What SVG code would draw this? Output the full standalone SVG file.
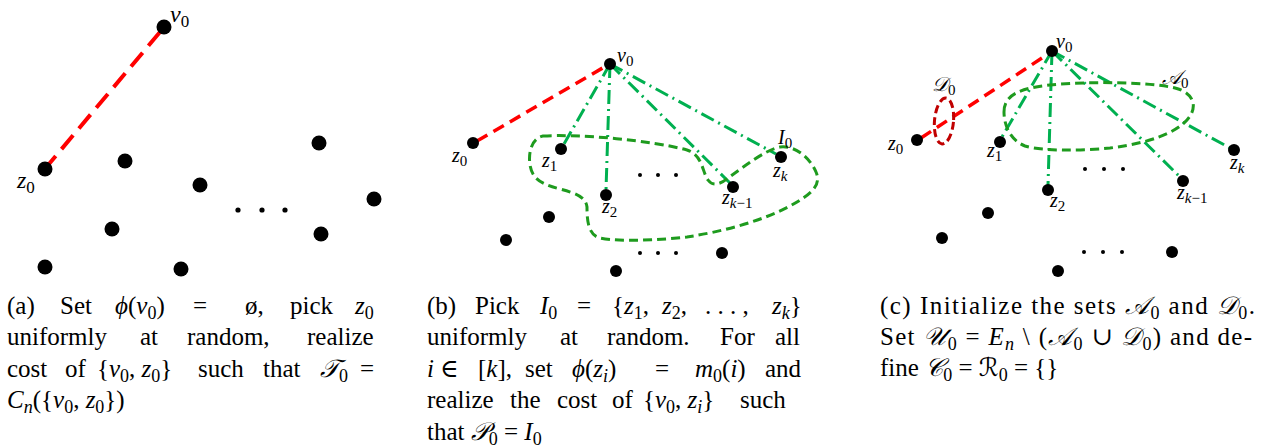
<svg xmlns="http://www.w3.org/2000/svg" width="1265" height="448" viewBox="0 0 1265 448">
<style>
text{font-family:"Liberation Serif","DejaVu Serif","DejaVu Sans",serif;fill:#000}
.cap{font-size:25px}
.it{font-style:italic}
.la{font-size:24px}
.lb{font-size:20px}
.dot{fill:#000}
.red{stroke:#ff0000;stroke-width:4;fill:none;stroke-dasharray:18 9}
.redb{stroke:#ff0000;stroke-width:3.5;fill:none;stroke-dasharray:12 7}
.gdd{stroke:#00b050;stroke-width:3;fill:none;stroke-dasharray:14 5 2 5}
.blob{stroke:#1e9b1e;stroke-width:3;fill:none;stroke-dasharray:9 5}
.dset{stroke:#c00000;stroke-width:3;fill:none;stroke-dasharray:8 4}
</style>
<g id="connectors">
<line class="red" x1="160" y1="32" x2="49" y2="164"/>
<line class="redb" x1="477" y1="141" x2="606" y2="66"/>
<line class="gdd" x1="610" y1="64" x2="564" y2="144"/>
<line class="gdd" x1="610" y1="64" x2="606" y2="190"/>
<line class="gdd" x1="610" y1="64" x2="731" y2="184"/>
<line class="gdd" x1="610" y1="64" x2="776" y2="154"/>
<line class="redb" x1="921" y1="138" x2="1048" y2="54"/>
<line class="gdd" x1="1052" y1="51" x2="1002" y2="137"/>
<line class="gdd" x1="1052" y1="51" x2="1048" y2="185"/>
<line class="gdd" x1="1052" y1="51" x2="1180" y2="177"/>
<line class="gdd" x1="1052" y1="51" x2="1230" y2="148"/>
</g>
<g id="sets">
<path id="I0-set" class="blob" d="M543,136 C580,134 650,140 687,150 C703,155 702,172 708,180 C712,186 720,185 728,178 C745,166 765,150 780,147 C795,145 810,158 816,172 C822,186 810,195 790,206 C760,222 720,232 687,237 C660,240 620,242 600,238 C588,235 587,220 587,207 C586,197 575,193 560,189 C540,184 532,178 530,165 C528,152 532,138 543,136 Z"/>
<path id="A0-set" class="blob" d="M1004,112 C1004,95 1020,88 1050,85 C1090,81 1150,82 1175,88 C1195,93 1198,108 1187,120 C1175,133 1150,143 1110,148 C1080,151 1040,151 1025,146 C1010,140 1004,125 1004,112 Z"/>
<ellipse id="D0-set" class="dset" cx="944" cy="121" rx="9.5" ry="23" transform="rotate(5 944 121)"/>
<text class="lb" x="778" y="144"><tspan class="it">I</tspan><tspan font-size="15" dy="4">0</tspan></text>
<text class="lb" x="1162" y="84"><tspan class="it">&#x1D49C;</tspan><tspan font-size="15" dy="4">0</tspan></text>
<text class="lb" x="932" y="91"><tspan class="it">&#x1D49F;</tspan><tspan font-size="15" dy="4">0</tspan></text>
</g>
<g id="panel-a">
<g id="a-v0"><circle class="dot" cx="164" cy="27" r="7.5"/><text class="la" x="170" y="22"><tspan class="it">v</tspan><tspan font-size="17" dy="5">0</tspan></text></g>
<g id="a-z0"><circle class="dot" cx="45" cy="169" r="7.5"/><text class="la" x="17" y="188"><tspan class="it">z</tspan><tspan font-size="17" dy="5">0</tspan></text></g>
<g id="a-others">
<circle class="dot" cx="125" cy="161" r="7.5"/><circle class="dot" cx="200" cy="185" r="7.5"/><circle class="dot" cx="319" cy="143" r="7.5"/><circle class="dot" cx="374" cy="199" r="7.5"/><circle class="dot" cx="321" cy="234" r="7.5"/><circle class="dot" cx="112" cy="229" r="7.5"/><circle class="dot" cx="45" cy="267" r="7.5"/><circle class="dot" cx="181" cy="269" r="7.5"/>
<circle class="dot" cx="238" cy="210" r="2.6"/><circle class="dot" cx="262" cy="210" r="2.6"/><circle class="dot" cx="285" cy="210" r="2.6"/>
</g>
</g>
<g id="panel-b">
<g id="b-v0"><circle class="dot" cx="610" cy="64" r="6"/><text class="lb" x="617" y="62"><tspan class="it">v</tspan><tspan font-size="15" dy="4">0</tspan></text></g>
<g id="b-z0"><circle class="dot" cx="473" cy="143" r="6"/><text class="lb" x="452" y="162"><tspan class="it">z</tspan><tspan font-size="15" dy="4">0</tspan></text></g>
<g id="b-z1"><circle class="dot" cx="561" cy="149" r="6"/><text class="lb" x="542" y="167"><tspan class="it">z</tspan><tspan font-size="15" dy="4">1</tspan></text></g>
<g id="b-z2"><circle class="dot" cx="606" cy="195" r="6"/><text class="lb" x="602" y="213"><tspan class="it">z</tspan><tspan font-size="15" dy="4">2</tspan></text></g>
<g id="b-zk1"><circle class="dot" cx="733" cy="187" r="6"/><text class="lb" x="722" y="204"><tspan class="it">z</tspan><tspan font-size="15" dy="4"><tspan class="it">k</tspan>&#x2212;1</tspan></text></g>
<g id="b-zk"><circle class="dot" cx="781" cy="157" r="6"/><text class="lb" x="773" y="177"><tspan class="it">z</tspan><tspan font-size="15" dy="4" class="it">k</tspan></text></g>
<g id="b-others">
<circle class="dot" cx="549" cy="217" r="6"/><circle class="dot" cx="506" cy="240" r="6"/><circle class="dot" cx="616" cy="271" r="6"/><circle class="dot" cx="722" cy="253" r="6"/>
<circle class="dot" cx="640" cy="175" r="2"/><circle class="dot" cx="658" cy="175" r="2"/><circle class="dot" cx="676" cy="175" r="2"/>
<circle class="dot" cx="640" cy="253" r="2"/><circle class="dot" cx="658" cy="253" r="2"/><circle class="dot" cx="676" cy="253" r="2"/>
</g>
</g>
<g id="panel-c">
<g id="c-v0"><circle class="dot" cx="1052" cy="51" r="6"/><text class="lb" x="1056" y="48"><tspan class="it">v</tspan><tspan font-size="15" dy="4">0</tspan></text></g>
<g id="c-z0"><circle class="dot" cx="917" cy="140" r="6"/><text class="lb" x="888" y="150"><tspan class="it">z</tspan><tspan font-size="15" dy="4">0</tspan></text></g>
<g id="c-z1"><circle class="dot" cx="1000" cy="142" r="6"/><text class="lb" x="987" y="157"><tspan class="it">z</tspan><tspan font-size="15" dy="4">1</tspan></text></g>
<g id="c-z2"><circle class="dot" cx="1048" cy="190" r="6"/><text class="lb" x="1050" y="207"><tspan class="it">z</tspan><tspan font-size="15" dy="4">2</tspan></text></g>
<g id="c-zk1"><circle class="dot" cx="1183" cy="181" r="6"/><text class="lb" x="1177" y="199"><tspan class="it">z</tspan><tspan font-size="15" dy="4"><tspan class="it">k</tspan>&#x2212;1</tspan></text></g>
<g id="c-zk"><circle class="dot" cx="1234" cy="150" r="6"/><text class="lb" x="1230" y="169"><tspan class="it">z</tspan><tspan font-size="15" dy="4" class="it">k</tspan></text></g>
<g id="c-others">
<circle class="dot" cx="988" cy="213" r="6"/><circle class="dot" cx="942" cy="238" r="6"/><circle class="dot" cx="1058" cy="271" r="6"/><circle class="dot" cx="1172" cy="252" r="6"/>
<circle class="dot" cx="1085" cy="169" r="2"/><circle class="dot" cx="1104" cy="169" r="2"/><circle class="dot" cx="1123" cy="169" r="2"/>
<circle class="dot" cx="1084" cy="252" r="2"/><circle class="dot" cx="1103" cy="252" r="2"/><circle class="dot" cx="1122" cy="252" r="2"/>
</g>
</g>
<g id="caption-a" class="cap">
<text x="7" y="314">(a)</text>
<text x="60" y="314">Set</text>
<text x="115" y="314"><tspan class="it">&#x3D5;</tspan>(<tspan class="it">v</tspan><tspan font-size="18" dy="5">0</tspan><tspan dy="-5">)</tspan></text>
<text x="193" y="314">=</text>
<text x="245" y="314">ø,</text>
<text x="290" y="314">pick</text>
<text x="355" y="314"><tspan class="it">z</tspan><tspan font-size="18" dy="5">0</tspan></text>
<text x="7" y="345">uniformly</text>
<text x="140" y="345">at</text>
<text x="187" y="345">random,</text>
<text x="307" y="345">realize</text>
<text x="7" y="377">cost</text>
<text x="65" y="377">of</text>
<text x="97" y="377">{<tspan class="it">v</tspan><tspan font-size="18" dy="5">0</tspan><tspan dy="-5">, </tspan><tspan class="it">z</tspan><tspan font-size="18" dy="5">0</tspan><tspan dy="-5">}</tspan></text>
<text x="198" y="377">such</text>
<text x="263" y="377">that</text>
<text x="320" y="377"><tspan class="it">&#x1D4AF;</tspan><tspan font-size="18" dy="5">0</tspan></text>
<text x="360" y="377">=</text>
<text x="7" y="408"><tspan class="it">C</tspan><tspan font-size="18" dy="5" class="it">n</tspan><tspan dy="-5">({</tspan><tspan class="it">v</tspan><tspan font-size="18" dy="5">0</tspan><tspan dy="-5">, </tspan><tspan class="it">z</tspan><tspan font-size="18" dy="5">0</tspan><tspan dy="-5">})</tspan></text>
</g>
<g id="caption-b" class="cap">
<text x="427" y="314">(b)</text>
<text x="475" y="314">Pick</text>
<text x="540" y="314"><tspan class="it">I</tspan><tspan font-size="18" dy="5">0</tspan></text>
<text x="577" y="314">=</text>
<text x="612" y="314">{<tspan class="it">z</tspan><tspan font-size="18" dy="5">1</tspan><tspan dy="-5">,</tspan></text>
<text x="662" y="314"><tspan class="it">z</tspan><tspan font-size="18" dy="5">2</tspan><tspan dy="-5">,</tspan></text>
<text x="705" y="314">. . . ,</text>
<text x="772" y="314"><tspan class="it">z</tspan><tspan font-size="18" dy="5" class="it">k</tspan><tspan dy="-5">}</tspan></text>
<text x="427" y="345">uniformly</text>
<text x="560" y="345">at</text>
<text x="607" y="345">random.</text>
<text x="720" y="345">For</text>
<text x="775" y="345">all</text>
<text x="427" y="377" class="it">i</text>
<text x="440" y="377">∈</text>
<text x="478" y="377">[<tspan class="it">k</tspan>],</text>
<text x="525" y="377">set</text>
<text x="572" y="377"><tspan class="it">&#x3D5;</tspan>(<tspan class="it">z</tspan><tspan font-size="18" dy="5" class="it">i</tspan><tspan dy="-5">)</tspan></text>
<text x="655" y="377">=</text>
<text x="695" y="377"><tspan class="it">m</tspan><tspan font-size="18" dy="5">0</tspan><tspan dy="-5">(</tspan><tspan class="it">i</tspan>)</text>
<text x="765" y="377">and</text>
<text x="427" y="408">realize</text>
<text x="510" y="408">the</text>
<text x="557" y="408">cost</text>
<text x="612" y="408">of</text>
<text x="643" y="408">{<tspan class="it">v</tspan><tspan font-size="18" dy="5">0</tspan><tspan dy="-5">, </tspan><tspan class="it">z</tspan><tspan font-size="18" dy="5" class="it">i</tspan><tspan dy="-5">}</tspan></text>
<text x="740" y="408">such</text>
<text x="427" y="440">that <tspan class="it">&#x1D4AB;</tspan><tspan font-size="18" dy="5">0</tspan><tspan dy="-5"> = </tspan><tspan class="it">I</tspan><tspan font-size="18" dy="5">0</tspan></text>
</g>
<g id="caption-c" class="cap">
<text x="880" y="314" textLength="375" lengthAdjust="spacing">(c) Initialize the sets <tspan class="it">&#x1D49C;</tspan><tspan font-size="18" dy="5">0</tspan><tspan dy="-5"> and </tspan><tspan class="it">&#x1D49F;</tspan><tspan font-size="18" dy="5">0</tspan><tspan dy="-5">.</tspan></text>
<text x="880" y="345" textLength="372" lengthAdjust="spacing">Set <tspan class="it">&#x1D4B0;</tspan><tspan font-size="18" dy="5">0</tspan><tspan dy="-5"> = </tspan><tspan class="it">E</tspan><tspan font-size="18" dy="5" class="it">n</tspan><tspan dy="-5"> \ (</tspan><tspan class="it">&#x1D49C;</tspan><tspan font-size="18" dy="5">0</tspan><tspan dy="-5"> ∪ </tspan><tspan class="it">&#x1D49F;</tspan><tspan font-size="18" dy="5">0</tspan><tspan dy="-5">) and de-</tspan></text>
<text x="880" y="376">fine <tspan class="it">&#x1D49E;</tspan><tspan font-size="18" dy="5">0</tspan><tspan dy="-5"> = </tspan><tspan class="it">&#x211B;</tspan><tspan font-size="18" dy="5">0</tspan><tspan dy="-5"> = {}</tspan></text>
</g>
</svg>
